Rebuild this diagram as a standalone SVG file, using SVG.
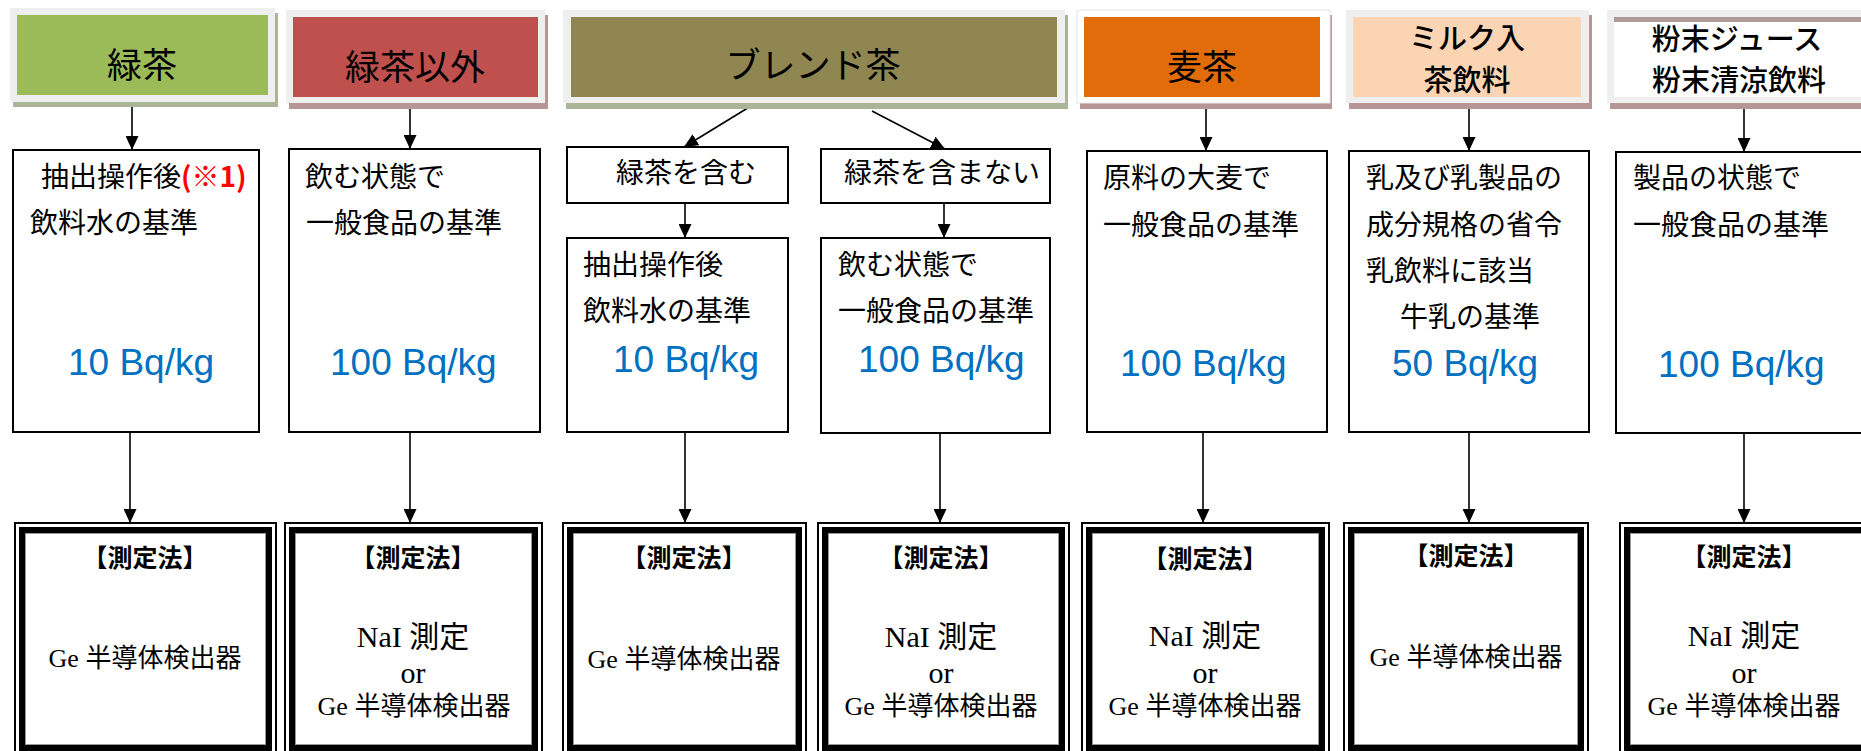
<svg xmlns="http://www.w3.org/2000/svg" width="1861" height="751" viewBox="0 0 1861 751">
<style>
.fr{fill:#efefef}
.sg{fill:#a9b596}
.sp{fill:#b99696}
.ht{font-family:"Noto Sans CJK JP",sans-serif;font-size:35px;fill:#000;text-anchor:middle}
.ht2{font-family:"Noto Sans CJK JP",sans-serif;font-size:29px;fill:#000;text-anchor:middle;font-weight:500}
.bx{fill:#fff;stroke:#000;stroke-width:2}
.tx{font-family:"Liberation Serif","Noto Sans CJK JP",serif;font-size:28px;fill:#000}
.c{text-anchor:middle}
.red{font-family:"Noto Sans CJK JP",sans-serif;font-size:28px;fill:#ff0000;font-weight:700}
.bq{font-family:"Liberation Sans",sans-serif;font-size:37px;fill:#0070c0}
.o{fill:#fff;stroke:#000;stroke-width:2}
.t{fill:none;stroke:#000;stroke-width:6}
.g{fill:none;stroke:#999;stroke-width:1}
.mh{font-family:"Liberation Serif","Noto Sans CJK JP",serif;font-size:25px;font-weight:700;fill:#000;text-anchor:middle}
.mt{font-family:"Liberation Serif","Noto Sans CJK JP",serif;font-size:26px;fill:#000;text-anchor:middle}
.mn{font-family:"Liberation Serif","Noto Sans CJK JP",serif;font-size:30px;fill:#000;text-anchor:middle}
.ln{stroke:#000;stroke-width:1.6;fill:none;marker-end:url(#ah)}
</style>
<defs>
<marker id="ah" viewBox="0 0 14 13" refX="14" refY="6.5" markerWidth="14" markerHeight="13" markerUnits="userSpaceOnUse" orient="auto">
<path d="M0,0 L14,6.5 L0,13 z" fill="#000"/>
</marker>
</defs>

<g id="connectors">
<line class="ln" x1="132" y1="102" x2="132" y2="150"/>
<line class="ln" x1="410" y1="103" x2="410" y2="149"/>
<line class="ln" x1="751" y1="106" x2="684" y2="147"/>
<line class="ln" x1="872" y1="111" x2="945" y2="149"/>
<line class="ln" x1="1206" y1="103" x2="1206" y2="151"/>
<line class="ln" x1="1469" y1="103" x2="1469" y2="151"/>
<line class="ln" x1="1744" y1="103" x2="1744" y2="152"/>
<line class="ln" x1="685" y1="203" x2="685" y2="238"/>
<line class="ln" x1="944" y1="203" x2="944" y2="238"/>
<line class="ln" x1="130" y1="432" x2="130" y2="523"/>
<line class="ln" x1="410" y1="432" x2="410" y2="523"/>
<line class="ln" x1="685" y1="432" x2="685" y2="523"/>
<line class="ln" x1="940" y1="433" x2="940" y2="523"/>
<line class="ln" x1="1203" y1="432" x2="1203" y2="523"/>
<line class="ln" x1="1469" y1="432" x2="1469" y2="523"/>
<line class="ln" x1="1744" y1="433" x2="1744" y2="523"/>
</g>

<g id="h-ryokucha">
<rect class="sg" x="13" y="13" width="265" height="94"/>
<rect class="fr" x="10" y="8" width="265" height="94"/>
<rect x="17" y="15" width="251" height="80" fill="#9bbb59"/>
<text class="ht" x="142" y="78">緑茶</text>
</g>
<g id="h-igai">
<rect class="sp" x="289" y="15" width="259" height="94"/>
<rect class="fr" x="286" y="10" width="259" height="93"/>
<rect x="293" y="17" width="245" height="80" fill="#c0504d"/>
<text class="ht" x="415" y="80">緑茶以外</text>
</g>
<g id="h-blend">
<rect class="sg" x="566" y="15" width="502" height="94"/>
<rect class="fr" x="563" y="10" width="502" height="93"/>
<rect x="571" y="17" width="486" height="80" fill="#8f8651"/>
<text class="ht" x="813" y="78">ブレンド茶</text>
</g>
<g id="h-mugicha">
<rect class="sp" x="1080" y="15" width="252" height="94"/>
<rect x="1077" y="10" width="253" height="93" fill="#fff" stroke="#e6e6e6" stroke-width="1"/>
<rect x="1084" y="17" width="236" height="80" fill="#e36c0a"/>
<text class="ht" x="1202" y="80">麦茶</text>
</g>
<g id="h-milk">
<rect class="sp" x="1349" y="15" width="243" height="94"/>
<rect class="fr" x="1346" y="10" width="243" height="93"/>
<rect x="1353" y="17" width="228" height="80" fill="#fbd4b4"/>
<text class="ht2" x="1467" y="49">ミルク入</text>
<text class="ht2" x="1467" y="91">茶飲料</text>
</g>
<g id="h-funmatsu">
<rect class="sp" x="1610" y="15" width="260" height="94"/>
<rect class="fr" x="1607" y="10" width="260" height="93"/>
<rect x="1614" y="17" width="250" height="5" fill="#b09a9a"/>
<rect x="1614" y="22" width="250" height="75" fill="#fff"/>
<text class="ht2" x="1737" y="50">粉末ジュース</text>
<text class="ht2" x="1739" y="91">粉末清涼飲料</text>
</g>

<g id="m-ryokucha">
<rect class="bx" x="13" y="150" width="246" height="282"/>
<text class="tx" x="41" y="187">抽出操作後<tspan class="red">(※1)</tspan></text>
<text class="tx" x="30" y="233">飲料水の基準</text>
<text class="bq" x="68" y="375">10 Bq/kg</text>
</g>
<g id="m-igai">
<rect class="bx" x="289" y="149" width="251" height="283"/>
<text class="tx" x="305" y="187">飲む状態で</text>
<text class="tx" x="306" y="233">一般食品の基準</text>
<text class="bq" x="330" y="375">100 Bq/kg</text>
</g>
<g id="b-fukumu">
<rect class="bx" x="567" y="147" width="221" height="56"/>
<text class="tx c" x="686" y="183">緑茶を含む</text>
</g>
<g id="b-fukumanai">
<rect class="bx" x="821" y="149" width="229" height="54"/>
<text class="tx c" x="942" y="183">緑茶を含まない</text>
</g>
<g id="m-blend1">
<rect class="bx" x="567" y="238" width="221" height="194"/>
<text class="tx" x="583" y="275">抽出操作後</text>
<text class="tx" x="583" y="321">飲料水の基準</text>
<text class="bq" x="613" y="372">10 Bq/kg</text>
</g>
<g id="m-blend2">
<rect class="bx" x="821" y="238" width="229" height="195"/>
<text class="tx" x="838" y="275">飲む状態で</text>
<text class="tx" x="838" y="321">一般食品の基準</text>
<text class="bq" x="858" y="372">100 Bq/kg</text>
</g>
<g id="m-mugicha">
<rect class="bx" x="1087" y="151" width="240" height="281"/>
<text class="tx" x="1103" y="188">原料の大麦で</text>
<text class="tx" x="1103" y="235">一般食品の基準</text>
<text class="bq" x="1120" y="376">100 Bq/kg</text>
</g>
<g id="m-milk">
<rect class="bx" x="1349" y="151" width="240" height="281"/>
<text class="tx" x="1366" y="188">乳及び乳製品の</text>
<text class="tx" x="1366" y="235">成分規格の省令</text>
<text class="tx" x="1366" y="281">乳飲料に該当</text>
<text class="tx" x="1400" y="327">牛乳の基準</text>
<text class="bq" x="1392" y="376">50 Bq/kg</text>
</g>
<g id="m-funmatsu">
<rect class="bx" x="1616" y="152" width="260" height="281"/>
<text class="tx" x="1633" y="188">製品の状態で</text>
<text class="tx" x="1633" y="235">一般食品の基準</text>
<text class="bq" x="1658" y="377">100 Bq/kg</text>
</g>

<g id="k-1">
<rect class="o" x="15" y="523" width="261" height="232"/>
<rect class="t" x="22" y="530" width="247" height="218"/>
<rect class="g" x="25.5" y="533.5" width="240" height="211"/>
<text class="mh" x="145" y="567">【測定法】</text>
<text class="mt" x="145" y="667">Ge 半導体検出器</text>
</g>
<g id="k-2">
<rect class="o" x="285" y="523" width="257" height="232"/>
<rect class="t" x="292" y="530" width="243" height="218"/>
<rect class="g" x="295.5" y="533.5" width="236" height="211"/>
<text class="mh" x="413" y="567">【測定法】</text>
<text class="mn" x="413" y="647">NaI 測定</text>
<text class="mn" x="413" y="683">or</text>
<text class="mt" x="414" y="715">Ge 半導体検出器</text>
</g>
<g id="k-3">
<rect class="o" x="563" y="523" width="243" height="232"/>
<rect class="t" x="570" y="530" width="229" height="218"/>
<rect class="g" x="573.5" y="533.5" width="222" height="211"/>
<text class="mh" x="684" y="567">【測定法】</text>
<text class="mt" x="684" y="668">Ge 半導体検出器</text>
</g>
<g id="k-4">
<rect class="o" x="818" y="523" width="251" height="232"/>
<rect class="t" x="825" y="530" width="237" height="218"/>
<rect class="g" x="828.5" y="533.5" width="230" height="211"/>
<text class="mh" x="941" y="567">【測定法】</text>
<text class="mn" x="941" y="647">NaI 測定</text>
<text class="mn" x="941" y="683">or</text>
<text class="mt" x="941" y="715">Ge 半導体検出器</text>
</g>
<g id="k-5">
<rect class="o" x="1082" y="523" width="247" height="232"/>
<rect class="t" x="1089" y="530" width="233" height="218"/>
<rect class="g" x="1092.5" y="533.5" width="226" height="211"/>
<text class="mh" x="1205" y="568">【測定法】</text>
<text class="mn" x="1205" y="646">NaI 測定</text>
<text class="mn" x="1205" y="683">or</text>
<text class="mt" x="1205" y="715">Ge 半導体検出器</text>
</g>
<g id="k-6">
<rect class="o" x="1344" y="523" width="244" height="232"/>
<rect class="t" x="1351" y="530" width="230" height="218"/>
<rect class="g" x="1354.5" y="533.5" width="223" height="211"/>
<text class="mh" x="1466" y="565">【測定法】</text>
<text class="mt" x="1466" y="666">Ge 半導体検出器</text>
</g>
<g id="k-7">
<rect class="o" x="1620" y="523" width="260" height="232"/>
<rect class="t" x="1627" y="530" width="246" height="218"/>
<rect class="g" x="1630.5" y="533.5" width="239" height="211"/>
<text class="mh" x="1744" y="566">【測定法】</text>
<text class="mn" x="1744" y="646">NaI 測定</text>
<text class="mn" x="1744" y="683">or</text>
<text class="mt" x="1744" y="715">Ge 半導体検出器</text>
</g>
</svg>
